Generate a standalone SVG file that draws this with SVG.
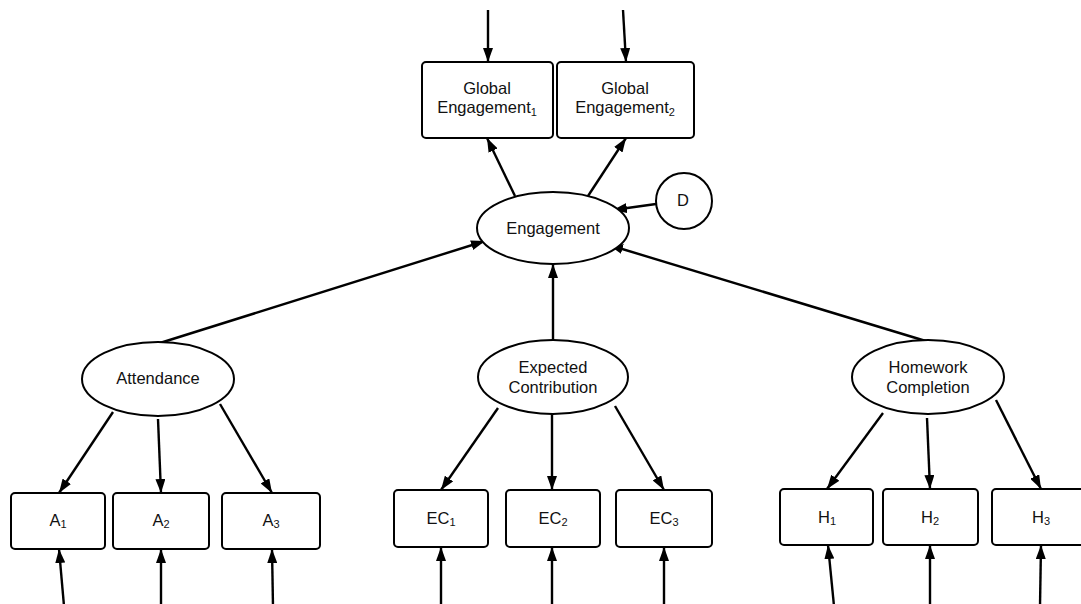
<svg xmlns="http://www.w3.org/2000/svg" width="1081" height="604" viewBox="0 0 1081 604">
<defs>
<marker id="ah" viewBox="0 0 14 10" refX="14" refY="5" markerWidth="14" markerHeight="10" markerUnits="userSpaceOnUse" orient="auto">
<path d="M0,0 L14,5 L0,10 z" fill="#000"/>
</marker>
<style>
.box{fill:#fff;stroke:#000;stroke-width:2}
.lat{fill:#fff;stroke:#000;stroke-width:2}
.t{font-family:"Liberation Sans",Arial,sans-serif;font-size:16.5px;fill:#111;text-anchor:middle}
.s{font-size:11px}
.c line{stroke:#000;stroke-width:2.4;marker-end:url(#ah)}
</style>
</defs>
<rect width="1081" height="604" fill="#fff"/>
<g class="c" id="connectors">
<line x1="488" y1="10" x2="488" y2="62"/>
<line x1="623" y1="10" x2="626" y2="62"/>
<line x1="515" y1="196" x2="487" y2="138"/>
<line x1="588" y1="196" x2="626" y2="138"/>
<line x1="656" y1="204" x2="613" y2="210"/>
<line x1="160" y1="343" x2="485" y2="241"/>
<line x1="553" y1="341" x2="553" y2="264"/>
<line x1="929" y1="342" x2="609" y2="245"/>
<line x1="113" y1="412" x2="59" y2="493"/>
<line x1="158" y1="419" x2="161" y2="493"/>
<line x1="220" y1="404" x2="272" y2="493"/>
<line x1="498" y1="408" x2="441" y2="490"/>
<line x1="552" y1="414" x2="552" y2="490"/>
<line x1="615" y1="406" x2="664" y2="490"/>
<line x1="883" y1="413" x2="827" y2="489"/>
<line x1="927" y1="418" x2="930" y2="489"/>
<line x1="996" y1="400" x2="1041" y2="489"/>
<line x1="64" y1="606" x2="59" y2="549"/>
<line x1="161" y1="606" x2="161" y2="549"/>
<line x1="273" y1="606" x2="272" y2="549"/>
<line x1="441" y1="606" x2="441" y2="547"/>
<line x1="552" y1="606" x2="552" y2="547"/>
<line x1="664" y1="606" x2="664" y2="547"/>
<line x1="834" y1="606" x2="828" y2="545"/>
<line x1="930" y1="606" x2="930" y2="545"/>
<line x1="1040" y1="606" x2="1041" y2="545"/>
</g>
<g id="ge1"><rect class="box" x="422" y="62" width="131" height="76" rx="4"/><text class="t" x="487" y="94">Global</text><text class="t" x="487" y="113">Engagement<tspan class="s" dy="3">1</tspan></text></g>
<g id="ge2"><rect class="box" x="557" y="62" width="137" height="76" rx="4"/><text class="t" x="625" y="94">Global</text><text class="t" x="625" y="113">Engagement<tspan class="s" dy="3">2</tspan></text></g>
<g id="engagement"><ellipse class="lat" cx="553" cy="228" rx="76" ry="36"/><text class="t" x="553" y="234">Engagement</text></g>
<g id="d"><circle class="lat" cx="684" cy="201" r="28"/><text class="t" x="683" y="206">D</text></g>
<g id="attendance"><ellipse class="lat" cx="158" cy="379" rx="76" ry="37"/><text class="t" x="158" y="384">Attendance</text></g>
<g id="expected"><ellipse class="lat" cx="553" cy="377" rx="75" ry="37"/><text class="t" x="553" y="373">Expected</text><text class="t" x="553" y="393">Contribution</text></g>
<g id="homework"><ellipse class="lat" cx="928" cy="377" rx="76" ry="37"/><text class="t" x="928" y="373">Homework</text><text class="t" x="928" y="393">Completion</text></g>
<g id="a1"><rect class="box" x="11" y="493" width="94" height="56" rx="4"/><text class="t" x="58" y="526">A<tspan class="s" dy="2">1</tspan></text></g>
<g id="a2"><rect class="box" x="113" y="493" width="96" height="56" rx="4"/><text class="t" x="161" y="526">A<tspan class="s" dy="2">2</tspan></text></g>
<g id="a3"><rect class="box" x="222" y="493" width="98" height="56" rx="4"/><text class="t" x="271" y="526">A<tspan class="s" dy="2">3</tspan></text></g>
<g id="ec1"><rect class="box" x="394" y="490" width="94" height="57" rx="4"/><text class="t" x="441" y="524">EC<tspan class="s" dy="2">1</tspan></text></g>
<g id="ec2"><rect class="box" x="506" y="490" width="94" height="57" rx="4"/><text class="t" x="553" y="524">EC<tspan class="s" dy="2">2</tspan></text></g>
<g id="ec3"><rect class="box" x="616" y="490" width="96" height="57" rx="4"/><text class="t" x="664" y="524">EC<tspan class="s" dy="2">3</tspan></text></g>
<g id="h1"><rect class="box" x="780" y="489" width="93" height="56" rx="4"/><text class="t" x="827" y="523">H<tspan class="s" dy="2">1</tspan></text></g>
<g id="h2"><rect class="box" x="883" y="489" width="95" height="56" rx="4"/><text class="t" x="930" y="523">H<tspan class="s" dy="2">2</tspan></text></g>
<g id="h3"><rect class="box" x="992" y="489" width="95" height="56" rx="4"/><text class="t" x="1041" y="523">H<tspan class="s" dy="2">3</tspan></text></g>
</svg>
